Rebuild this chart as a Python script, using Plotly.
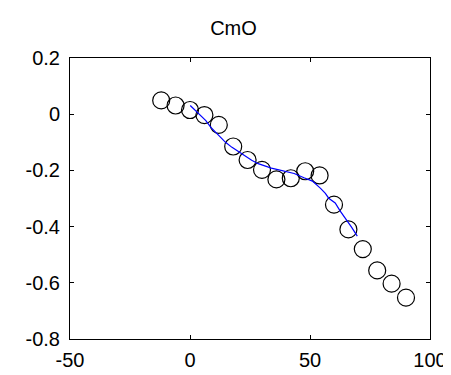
import plotly.graph_objects as go

# Data: measured points (open circles)
alpha = [-12, -6, 0, 6, 12, 18, 24, 30, 36, 42, 48, 54, 60, 66, 72, 78, 84, 90]
cm0 = [0.049, 0.031, 0.015, -0.003, -0.038, -0.115, -0.163, -0.198, -0.232,
       -0.228, -0.203, -0.218, -0.322, -0.410, -0.480, -0.556, -0.603, -0.653]

# Fitted (blue) curve
fit_x = [0.1, 2.5, 4.5, 6.6, 8.6, 12.0, 14.8, 17.5, 20.2, 23.0, 25.7, 28.4, 31.1,
         33.9, 36.6, 40.0, 43.4, 47.5, 51.0, 54.4, 56.4, 57.8, 60.5, 62.6, 64.6,
         66.0, 67.3, 69.7]
fit_y = [0.031, 0.011, -0.006, -0.023, -0.046, -0.075, -0.100, -0.118, -0.134,
         -0.149, -0.164, -0.176, -0.184, -0.192, -0.197, -0.203, -0.211, -0.226,
         -0.238, -0.264, -0.282, -0.299, -0.316, -0.345, -0.368, -0.385, -0.402,
         -0.434]

x_ticks = [-50, 0, 50, 100]
x_labels = ["-50", "0", "50", "100"]
y_ticks = [0.2, 0, -0.2, -0.4, -0.6, -0.8]
y_labels = ["0.2", "0", "-0.2", "-0.4", "-0.6", "-0.8"]

font = dict(family="Liberation Sans, Arial, sans-serif", size=20, color="black")

fig = go.Figure()
fig.add_trace(go.Scatter(x=alpha, y=cm0, mode="markers",
                         marker=dict(symbol="circle-open", size=17,
                                     color="black", line=dict(width=1.2)),
                         showlegend=False))
fig.add_trace(go.Scatter(x=fit_x, y=fit_y, mode="lines",
                         line=dict(color="#0000ff", width=1.2),
                         showlegend=False))

axis_common = dict(showgrid=False, zeroline=False, showline=True, linecolor="black",
                   linewidth=1, mirror="ticks", ticks="inside", ticklen=4,
                   tickcolor="black", tickfont=font)

fig.update_layout(
    width=451, height=375,
    margin=dict(l=62, r=23, t=50, b=38),
    paper_bgcolor="white", plot_bgcolor="white",
    title=dict(text="CmO", x=0.5, xanchor="center", y=1 - 20 / 375, yanchor="middle",
               font=font),
    xaxis=dict(range=[-50, 100], tickvals=x_ticks, ticktext=x_labels,
               ticklabelstandoff=3, **axis_common),
    yaxis=dict(range=[-0.8, 0.2], tickvals=y_ticks, ticktext=y_labels,
               ticklabelstandoff=5, **axis_common),
)

fig.write_html("out.html")
